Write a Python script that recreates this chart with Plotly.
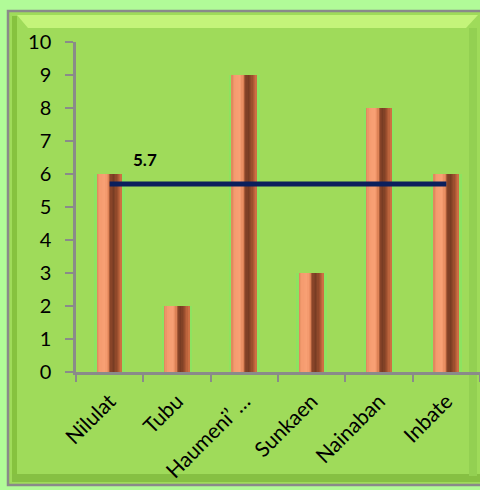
import plotly.graph_objects as go

# Village counts and their mean
categories = ["Nilulat", "Tubu", "Haumeni’ …", "Sunkaen", "Nainaban", "Inbate"]
values = [6, 2, 9, 3, 8, 6]
average = 5.7
y_ticks = list(range(0, 11))

W, H = 480, 490
L, R, T, B = 76, 0, 42, 118
plot_w = W - L - R
plot_h = H - T - B


def px(x):
    return (x - L) / plot_w


def py(y):
    return (H - B - y) / plot_h


def hex_to_rgb(h):
    h = h.lstrip("#")
    return [int(h[i:i + 2], 16) for i in (0, 2, 4)]


def shade_at(t, stops):
    for (t0, c0), (t1, c1) in zip(stops, stops[1:]):
        if t0 <= t <= t1:
            f = 0 if t1 == t0 else (t - t0) / (t1 - t0)
            a, b = hex_to_rgb(c0), hex_to_rgb(c1)
            r, g, bl = (round(a[i] + (b[i] - a[i]) * f) for i in range(3))
            return f"rgb({r},{g},{bl})"
    return stops[-1][1]


fig = go.Figure()

# soft halo behind each column
fig.add_trace(go.Bar(
    x=categories, y=values, width=[0.46] * len(values),
    marker=dict(color="rgba(130,232,100,0.6)", line=dict(width=0)),
    hoverinfo="skip", showlegend=False,
))

# cylinder shading: many thin strips across the column
half = 0.185
n_strips = 20
stops = [
    (0.00, "#d98458"),
    (0.10, "#f39a6e"),
    (0.35, "#f9a175"),
    (0.47, "#e28659"),
    (0.55, "#8c4629"),
    (0.68, "#773c23"),
    (0.82, "#9a4e2d"),
    (1.00, "#d57447"),
]
sw = 2 * half / n_strips
for k in range(n_strips):
    t = (k + 0.5) / n_strips
    fig.add_trace(go.Bar(
        x=categories, y=values,
        offset=[-half + k * sw] * len(values), width=[sw * 1.08] * len(values),
        marker=dict(color=shade_at(t, stops), line=dict(width=0)),
        hoverinfo="skip", showlegend=False,
    ))

# average line
fig.add_trace(go.Scatter(
    x=[categories[0], categories[-1]], y=[average, average],
    mode="lines", line=dict(color="#0b1f5c", width=5),
    showlegend=False, hoverinfo="skip",
))

fig.add_annotation(
    x=categories[0], y=average, text=f"<b>{average}</b>",
    showarrow=False, xshift=35, yshift=24,
    font=dict(family="Lato", size=17, color="#000000"),
)

# framed, bevelled chart panel
shapes = [
    dict(type="rect", x0=px(8), x1=px(484), y0=py(11), y1=py(485),
         fillcolor="#9fdb5a", line=dict(color="#8a8a8a", width=2.5)),
    # darker inner edges
    dict(type="rect", x0=px(12), x1=px(17), y0=py(16), y1=py(481),
         fillcolor="#86c23f", line=dict(width=0)),
    dict(type="rect", x0=px(12), x1=px(484), y0=py(474), y1=py(482),
         fillcolor="#86c043", line=dict(width=0)),
    dict(type="rect", x0=px(469), x1=px(477), y0=py(28), y1=py(476),
         fillcolor="#93d052", line=dict(width=0)),
    # highlight along the top
    dict(type="path",
         path=f"M {px(17)},{py(15)} L {px(478)},{py(15)} L {px(466)},{py(28)} L {px(28)},{py(28)} Z",
         fillcolor="#c4f47a", line=dict(width=0)),
]
for s in shapes:
    s["xref"] = "paper"
    s["yref"] = "paper"
    s["layer"] = "below"
fig.update_layout(shapes=shapes)

fig.update_layout(
    width=W, height=H, autosize=False,
    margin=dict(l=L, r=R, t=T, b=B, pad=0),
    paper_bgcolor="#b1fb98",
    plot_bgcolor="rgba(0,0,0,0)",
    barmode="overlay",
    bargap=0,
    showlegend=False,
    font=dict(family="Lato", color="#000000"),
)
fig.update_yaxes(
    range=[0, 10], tickvals=y_ticks, ticks="outside", ticklen=8,
    tickcolor="#8a8a8a", tickwidth=2, showline=True, linecolor="#8a8a8a",
    linewidth=2.5, showgrid=False, zeroline=False,
    tickfont=dict(family="Lato", size=20, color="#000000"),
    ticklabelstandoff=10,
)
fig.update_xaxes(
    type="category", range=[-0.5, 5.5], tickson="boundaries",
    ticks="outside", ticklen=7, tickcolor="#8a8a8a", tickwidth=2,
    showline=True, linecolor="#8a8a8a", linewidth=2.5, showgrid=False,
    tickangle=-45, tickfont=dict(family="Lato", size=21, color="#000000"),
    ticklabelstandoff=6,
)

fig.write_html("out.html")
